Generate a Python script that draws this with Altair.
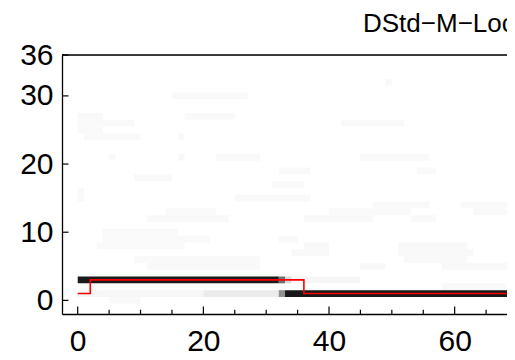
import altair as alt
import pandas as pd

title_text = "DStd−M−Local"

x_major = [0, 20, 40, 60]
x_minor = [5, 10, 15, 25, 30, 35, 45, 50, 55, 65]
y_ticks = [0, 10, 20, 30, 36]

# red decoded path (step function)
path_t = [0, 2, 36, 70]
path_state = [1, 3, 1, 1]

# heatmap segments: state row, start time, end time, probability
seg_state = [3, 3, 3, 3, 1, 1, 1, 1]
seg_start = [0, 32, 33, 34, 0, 20, 32, 33]
seg_end = [32, 33, 34, 45, 20, 32, 33, 70]
seg_value = [0.9, 0.53, 0.13, 0.03, 0.03, 0.07, 0.4, 0.92]

# faint background cells
faint_state = [27, 27, 25, 24, 24, 21, 21, 21, 18, 16, 15, 15, 13, 12, 10, 9, 6, 5,
               21, 19, 19, 17, 15, 14, 14, 13, 13, 12, 12, 9, 8, 7,
               8, 8, 8, 7, 6, 5, 5, 5, 2, 0, 30, 32, 26, 26]
faint_start = [0, 17, 0, 1, 16, 5, 16, 22, 9, 0, 0, 25, 14, 11, 4, 4, 9, 11,
               45, 32, 54, 31, 29, 47, 61, 40, 63, 36, 53, 32, 36, 51,
               3, 37, 51, 34, 52, 17, 45, 58, 58, 5, 15, 49, 0, 42]
faint_end = [4, 25, 4, 10, 17, 6, 17, 29, 15, 1, 1, 29, 22, 24, 16, 21, 29, 18,
             56, 37, 57, 36, 37, 56, 70, 53, 70, 47, 57, 35, 39, 63,
             17, 40, 62, 40, 62, 29, 49, 70, 70, 10, 27, 50, 9, 52]
faint_value = [0.022] * len(faint_state)

segs = pd.DataFrame({
    "state": seg_state + faint_state,
    "t0": seg_start + faint_start,
    "t1": seg_end + faint_end,
    "p": seg_value + faint_value,
})
segs["s0"] = segs["state"] - 0.5
segs["s1"] = segs["state"] + 0.5
segs = segs.sort_values("p").reset_index(drop=True)

path = pd.DataFrame({"t": path_t, "state": path_state})

W, H = 445, 259
xs = alt.Scale(domain=[-2.5, 68.33], nice=False, zero=False)
ys = alt.Scale(domain=[-2, 36], nice=False, zero=False)
FONT = "Liberation Sans"

x_axis = alt.Axis(values=x_major, format="d", labelFont=FONT, labelFontSize=30,
                  labelColor="black", ticks=False, tickSize=0, labelPadding=12,
                  domainColor="black", domainWidth=1.3, grid=False, title=None)
y_axis = alt.Axis(values=y_ticks, format="d", labelFont=FONT, labelFontSize=30,
                  labelColor="black", ticks=False, tickSize=0, labelPadding=9,
                  domainColor="black", domainWidth=1.3, grid=False, title=None)

heat = alt.Chart(segs).mark_rect(clip=True, strokeWidth=0).encode(
    x=alt.X("t0:Q", scale=xs, axis=x_axis),
    x2="t1:Q",
    y=alt.Y("s0:Q", scale=ys, axis=y_axis),
    y2="s1:Q",
    color=alt.Color("p:Q", scale=alt.Scale(domain=[0, 1], range=["#ffffff", "#000000"]),
                    legend=None),
)

line = alt.Chart(path).mark_line(interpolate="step-after", color="#ff0000",
                                 strokeWidth=1.6, clip=True).encode(
    x=alt.X("t:Q", scale=xs),
    y=alt.Y("state:Q", scale=ys),
)

ytk = alt.Chart(pd.DataFrame({"v": y_ticks})).mark_rule(color="black", strokeWidth=1.2).encode(
    y=alt.Y("v:Q", scale=ys), x=alt.value(0), x2=alt.value(6.5))

xmaj = alt.Chart(pd.DataFrame({"v": x_major})).mark_rule(color="black", strokeWidth=1.2).encode(
    x=alt.X("v:Q", scale=xs), y=alt.value(H), y2=alt.value(H - 7.5))

xmin = alt.Chart(pd.DataFrame({"v": x_minor})).mark_rule(color="black", strokeWidth=1.2).encode(
    x=alt.X("v:Q", scale=xs), y=alt.value(H), y2=alt.value(H - 4.3))

top = alt.Chart(pd.DataFrame({"v": [36]})).mark_rule(color="black", strokeWidth=1.3).encode(
    y=alt.Y("v:Q", scale=ys), x=alt.value(0), x2=alt.value(W))

ttl = alt.Chart(pd.DataFrame({"txt": [title_text]})).mark_text(
    font=FONT, fontSize=26, color="black", align="left", baseline="alphabetic"
).encode(text="txt:N", x=alt.value(301), y=alt.value(-23.3))

chart = alt.layer(heat, line, ytk, xmaj, xmin, top, ttl).properties(
    width=W, height=H,
    autosize=alt.AutoSizeParams(type="none"),
    padding={"left": 54, "top": 47, "right": 0, "bottom": 38},
).configure_view(stroke=None).configure(background="white")

chart.save("out.html", embed_options={"renderer": "svg", "actions": False})
